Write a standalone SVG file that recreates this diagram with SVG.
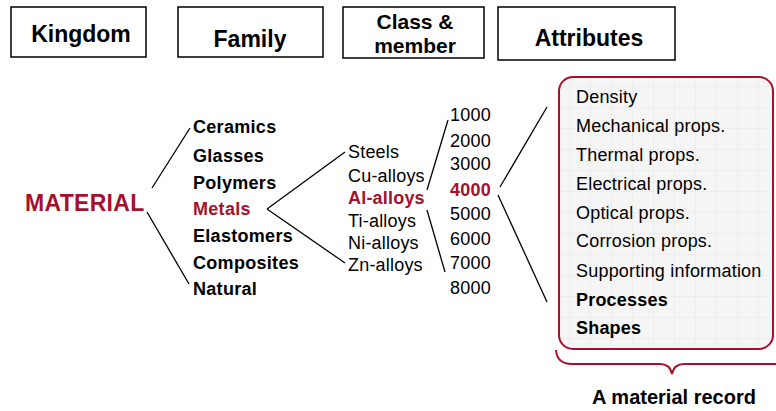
<svg xmlns="http://www.w3.org/2000/svg" width="776" height="411" viewBox="0 0 776 411">
<style>
text{font-family:"Liberation Sans",Arial,sans-serif;fill:#000}
.hdr{font-size:23px;font-weight:bold;text-anchor:middle}
.hbox{fill:#fff;stroke:#000;stroke-width:1.5}
.fam{font-size:18px;font-weight:bold;letter-spacing:0.3px}
.reg{font-size:18px;letter-spacing:0.2px}
.red{fill:#a5102e}
.b{font-weight:bold}
.con{stroke:#000;stroke-width:1.3;fill:none}
</style>
<defs>
<pattern id="grid" x="3" y="3" width="21" height="21" patternUnits="userSpaceOnUse">
<rect width="21" height="21" fill="#f5f5f5"/>
<path d="M21 0V21M0 21H21" stroke="#e6e6e6" stroke-width="1" fill="none"/>
</pattern>
</defs>
<g id="hdr-kingdom"><rect class="hbox" x="11" y="7" width="135" height="50"/><text class="hdr" x="81" y="42">Kingdom</text></g>
<g id="hdr-family"><rect class="hbox" x="178" y="7" width="145" height="50"/><text class="hdr" x="250" y="47">Family</text></g>
<g id="hdr-class"><rect class="hbox" x="343" y="7" width="141" height="51"/><text class="hdr" x="415" y="29" style="font-size:21px">Class &amp;</text><text class="hdr" x="415" y="53" style="font-size:21px">member</text></g>
<g id="hdr-attr"><rect class="hbox" x="498" y="7" width="177" height="53"/><text class="hdr" x="589" y="46">Attributes</text></g>
<g id="connectors">
<line class="con" x1="152" y1="188" x2="190" y2="128"/>
<line class="con" x1="147" y1="212" x2="189" y2="284"/>
<line class="con" x1="267" y1="209" x2="345" y2="152"/>
<line class="con" x1="267" y1="209" x2="345" y2="263"/>
<line class="con" x1="427" y1="190" x2="448" y2="120"/>
<line class="con" x1="427" y1="210" x2="445" y2="272"/>
<line class="con" x1="500" y1="187" x2="547" y2="107"/>
<line class="con" x1="498" y1="195" x2="547" y2="302"/>
</g>
<g id="kingdom"><text x="25" y="211" class="red" style="font-size:23px;font-weight:bold;letter-spacing:0.3px">MATERIAL</text></g>
<g id="family">
<text class="fam" x="193" y="133">Ceramics</text>
<text class="fam" x="193" y="162">Glasses</text>
<text class="fam" x="193" y="189">Polymers</text>
<text class="fam red" x="193" y="215">Metals</text>
<text class="fam" x="193" y="242">Elastomers</text>
<text class="fam" x="193" y="269">Composites</text>
<text class="fam" x="193" y="295">Natural</text>
</g>
<g id="members">
<text class="reg" x="348" y="158">Steels</text>
<text class="reg" x="348" y="182">Cu-alloys</text>
<text class="reg b red" x="348" y="204">Al-alloys</text>
<text class="reg" x="348" y="227">Ti-alloys</text>
<text class="reg" x="348" y="249">Ni-alloys</text>
<text class="reg" x="348" y="271">Zn-alloys</text>
</g>
<g id="classes">
<text class="reg" x="450" y="121">1000</text>
<text class="reg" x="450" y="147">2000</text>
<text class="reg" x="450" y="170">3000</text>
<text class="reg b red" x="450" y="196">4000</text>
<text class="reg" x="450" y="220">5000</text>
<text class="reg" x="450" y="245">6000</text>
<text class="reg" x="450" y="269">7000</text>
<text class="reg" x="450" y="294">8000</text>
</g>
<g id="record">
<rect x="559" y="77" width="214" height="272" rx="14" fill="url(#grid)" stroke="#a5102e" stroke-width="2"/>
<text class="reg" x="576" y="103">Density</text>
<text class="reg" x="576" y="132">Mechanical props.</text>
<text class="reg" x="576" y="161">Thermal props.</text>
<text class="reg" x="576" y="190">Electrical props.</text>
<text class="reg" x="576" y="219">Optical props.</text>
<text class="reg" x="576" y="247">Corrosion props.</text>
<text class="reg" x="576" y="277">Supporting information</text>
<text class="reg b" x="576" y="306">Processes</text>
<text class="reg b" x="576" y="334">Shapes</text>
<path d="M556 350 Q557 364 572 364 L660 364 Q670 364 672 374 Q674 364 684 364 L776 364" fill="none" stroke="#a5102e" stroke-width="2"/>
<text x="674" y="404" style="font-size:20px;font-weight:bold;text-anchor:middle">A material record</text>
</g>
</svg>
